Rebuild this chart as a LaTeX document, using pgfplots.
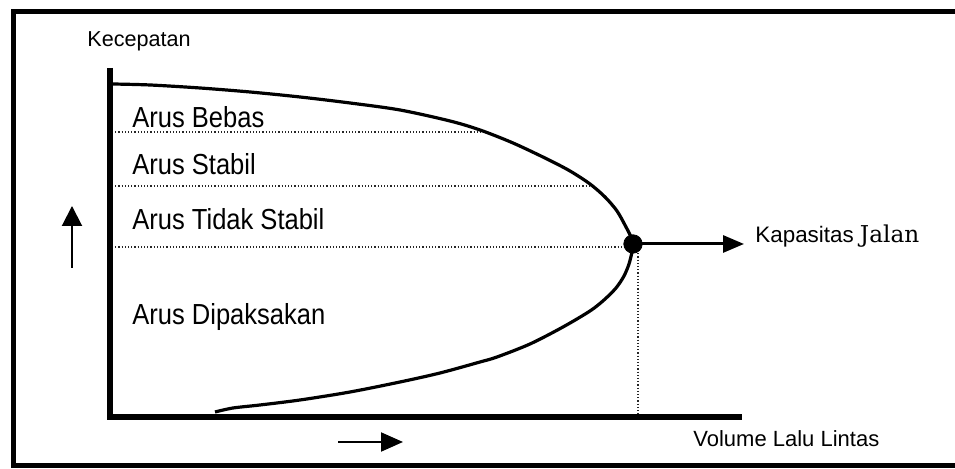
\documentclass[border=0pt]{standalone}
\usepackage{pgfplots}
\pgfplotsset{compat=1.18}
\usetikzlibrary{arrows.meta}
\usepackage{fontspec}
\setmainfont{Liberation Sans}
\newfontfamily\arusfont[FakeStretch=0.88]{Liberation Sans}
\newfontfamily\jalanfont{DejaVu Serif}

% picture in pixel units: 955 x 469 px, 0.5pt per px, y downwards
\begin{document}
\begin{tikzpicture}
\begin{axis}[
    scale only axis,
    width=477.5pt, height=234.5pt,
    xmin=0, xmax=955, ymin=0, ymax=469,
    y dir=reverse,
    hide axis,
    clip=false,
  ]
% frame (open on the right)
\addplot[black, line width=2.5pt, line join=miter]
  coordinates {(955,12) (13,12) (13,466) (955,466)};

% zone boundaries
\addplot[black!85, line width=0.6pt, densely dotted]
  coordinates {(112,132) (486,132)};
\addplot[black!85, line width=0.6pt, densely dotted]
  coordinates {(112,186) (592,186)};
\addplot[black!85, line width=0.6pt, densely dotted]
  coordinates {(112,247) (626,247)};
\addplot[black!85, line width=0.6pt, densely dotted]
  coordinates {(638,250) (638,416)};

% speed-flow curve
\addplot[black, line width=1.6pt, smooth, tension=0.5] coordinates {
  (112,84) (150,85) (200,88) (250,92) (300,97) (350,103) (400,110)
  (450,121) (480,130) (513,143) (547,159) (570,171) (590,184)
  (605,197) (617,211) (626,227) (631,237) (633,244)
  (632,252) (629,264) (624,276) (616,288) (604,300) (590,311)
  (563,327) (530,344) (497,357) (480,362) (440,373) (400,382)
  (350,392) (300,400) (260,405) (233,408) (215,412)};

% axes
\addplot[black, line width=2.6pt, line join=miter]
  coordinates {(110,68) (110,417) (742,417)};

% capacity point and arrow
\addplot[black, line width=1.5pt, -{Triangle[length=10.5pt,width=8.5pt]}]
  coordinates {(640,244) (744,244)};
\addplot[only marks, mark=*, mark size=4.6pt, black]
  coordinates {(633,244)};

% direction arrows
\addplot[black, line width=1pt, -{Triangle[length=10pt,width=10pt]}]
  coordinates {(72,268) (72,206)};
\addplot[black, line width=1pt, -{Triangle[length=11pt,width=9.5pt]}]
  coordinates {(338,442) (403,442)};

% labels
\node[anchor=base west, inner sep=0pt, font=\fontsize{10.8}{12}\selectfont]
  at (axis cs:87,47) {Kecepatan};
\node[anchor=base west, inner sep=0pt, font=\arusfont\fontsize{14.5}{16}\selectfont]
  at (axis cs:132,128) {Arus Bebas};
\node[anchor=base west, inner sep=0pt, font=\arusfont\fontsize{14.5}{16}\selectfont]
  at (axis cs:132,175) {Arus Stabil};
\node[anchor=base west, inner sep=0pt, font=\arusfont\fontsize{14.5}{16}\selectfont]
  at (axis cs:132,230) {Arus Tidak Stabil};
\node[anchor=base west, inner sep=0pt, font=\arusfont\fontsize{14.5}{16}\selectfont]
  at (axis cs:132,325) {Arus Dipaksakan};
\node[anchor=base west, inner sep=0pt, font=\fontsize{11}{12}\selectfont]
  at (axis cs:693,447) {Volume Lalu Lintas};
\node[anchor=base west, inner sep=0pt, font=\fontsize{11.2}{12}\selectfont]
  at (axis cs:755,243) {Kapasitas {\jalanfont\fontsize{11.6}{12}\selectfont Jalan}};
\end{axis}
\pgfresetboundingbox
\useasboundingbox (0,0) rectangle (477.5pt,234.5pt);
\end{tikzpicture}
\end{document}
